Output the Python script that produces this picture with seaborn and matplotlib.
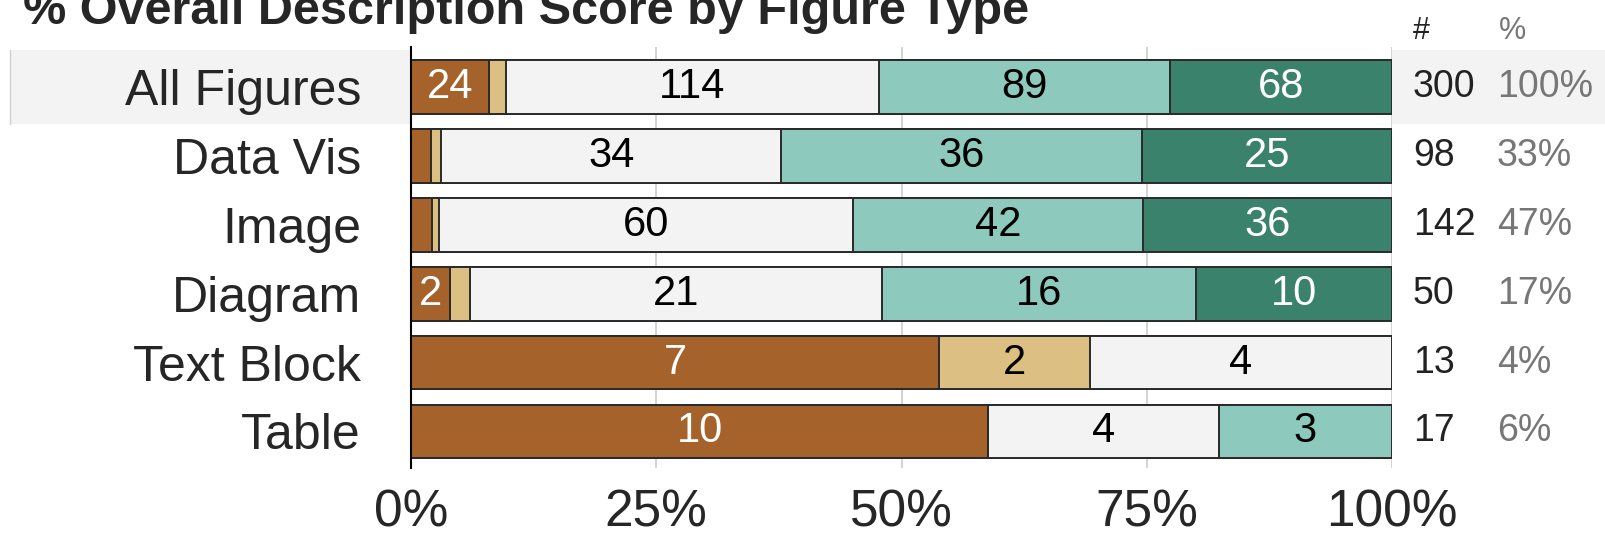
import matplotlib
matplotlib.use("Agg")
import matplotlib.pyplot as plt
import matplotlib.transforms as mtransforms
from matplotlib.patches import Rectangle
import numpy as np
import pandas as pd
import seaborn as sns

# ---- data ----
categories = ["All Figures", "Data Vis", "Image", "Diagram", "Text Block", "Table"]
score_levels = ["Very Poor", "Poor", "Neutral", "Good", "Very Good"]
very_poor = [24, 2, 3, 2, 7, 10]
poor = [5, 1, 1, 1, 2, 0]
neutral = [114, 34, 60, 21, 4, 4]
good = [89, 36, 42, 16, 0, 3]
very_good = [68, 25, 36, 10, 0, 0]
totals = [300, 98, 142, 50, 13, 17]
share_labels = ["100%", "33%", "47%", "17%", "4%", "6%"]
tick_values = [0, 25, 50, 75, 100]
tick_labels = ["0%", "25%", "50%", "75%", "100%"]
title = "% Overall Description Score by Figure Type"

colors = ["#a5622a", "#dcc083", "#f3f3f3", "#8ec9bd", "#3a826c"]
text_colors = ["white", "black", "black", "black", "white"]

sns.set_theme(style="white")
plt.rcParams["font.family"] = ["Liberation Sans", "DejaVu Sans"]

counts = np.array([very_poor, poor, neutral, good, very_good], dtype=float)
tot = np.array(totals, dtype=float)
pct = counts / tot * 100
cum = np.cumsum(pct, axis=0)

fig = plt.figure(figsize=(16.05, 5.38), dpi=100)
ax = fig.add_axes([411 / 1605, 1 - 468 / 538, (1392 - 411) / 1605, (468 - 47) / 538])
ax.set_facecolor("white")

# highlight band behind "All Figures" row (outside the plot area)
btr = mtransforms.blended_transform_factory(fig.transFigure, ax.transData)
band = Rectangle((10 / 1605, 0 - 0.535), 1 - 10 / 1605, 1.07, transform=btr,
                 facecolor="#f3f3f3", edgecolor="none", zorder=-5)
fig.add_artist(band)
fig.add_artist(plt.Line2D([10 / 1605, 10 / 1605], [0 - 0.535, 0 + 0.535],
                          transform=btr, color="#d0d0d0", lw=1, zorder=-4))

# stacked bars via overlay of cumulative sums (largest first)
for k in range(len(score_levels) - 1, -1, -1):
    df = pd.DataFrame({"cat": categories, "cum": cum[k]})
    sns.barplot(data=df, x="cum", y="cat", orient="h", color=colors[k],
                edgecolor="#2a2a2a", linewidth=1.4, width=0.78, saturation=1,
                ax=ax, zorder=3)

# segment labels
for k in range(len(score_levels)):
    for i in range(len(categories)):
        c = counts[k, i]
        if c <= 0 or pct[k, i] < 3:
            continue
        left = cum[k, i] - pct[k, i]
        ax.text(left + pct[k, i] / 2, i, f"{int(c)}", ha="center", va="center",
                fontsize=30, color=text_colors[k], zorder=5)

ax.set_xlim(0, 100)
ax.set_ylim(5.53, -0.58)
ax.set_xticks(tick_values)
ax.set_xticklabels(tick_labels, fontsize=37)
ax.tick_params(axis="x", length=0, pad=14.5)
ax.set_yticks(range(len(categories)))
ax.set_yticklabels(categories, fontsize=36)
ax.tick_params(axis="y", length=0, pad=36)
ax.xaxis.grid(True, color="#cccccc", lw=1.2, zorder=0)
ax.set_axisbelow(True)
ax.set_xlabel("")
ax.set_ylabel("")
for s in ["top", "right", "bottom"]:
    ax.spines[s].set_visible(False)
ax.spines["left"].set_color("black")
ax.spines["left"].set_linewidth(1.5)
ax.spines["left"].set_zorder(6)

# right columns
fig.text(1413 / 1605, 1 - 31 / 538, "#", fontsize=22, color="#222222", ha="left", va="center")
fig.text(1499 / 1605, 1 - 31 / 538, "%", fontsize=22, color="#777777", ha="left", va="center")
for i in range(len(categories)):
    ax.text(1413 / 1605, i, f"{totals[i]}", transform=btr, fontsize=27,
            color="#222222", ha="left", va="center")
    ax.text(1497 / 1605, i, share_labels[i], transform=btr, fontsize=27,
            color="#777777", ha="left", va="center")

fig.text(23 / 1605, 1 - 24 / 538, title, fontsize=35, fontweight="bold",
         ha="left", va="baseline")

fig.savefig("out.png", dpi=100, facecolor="white")
